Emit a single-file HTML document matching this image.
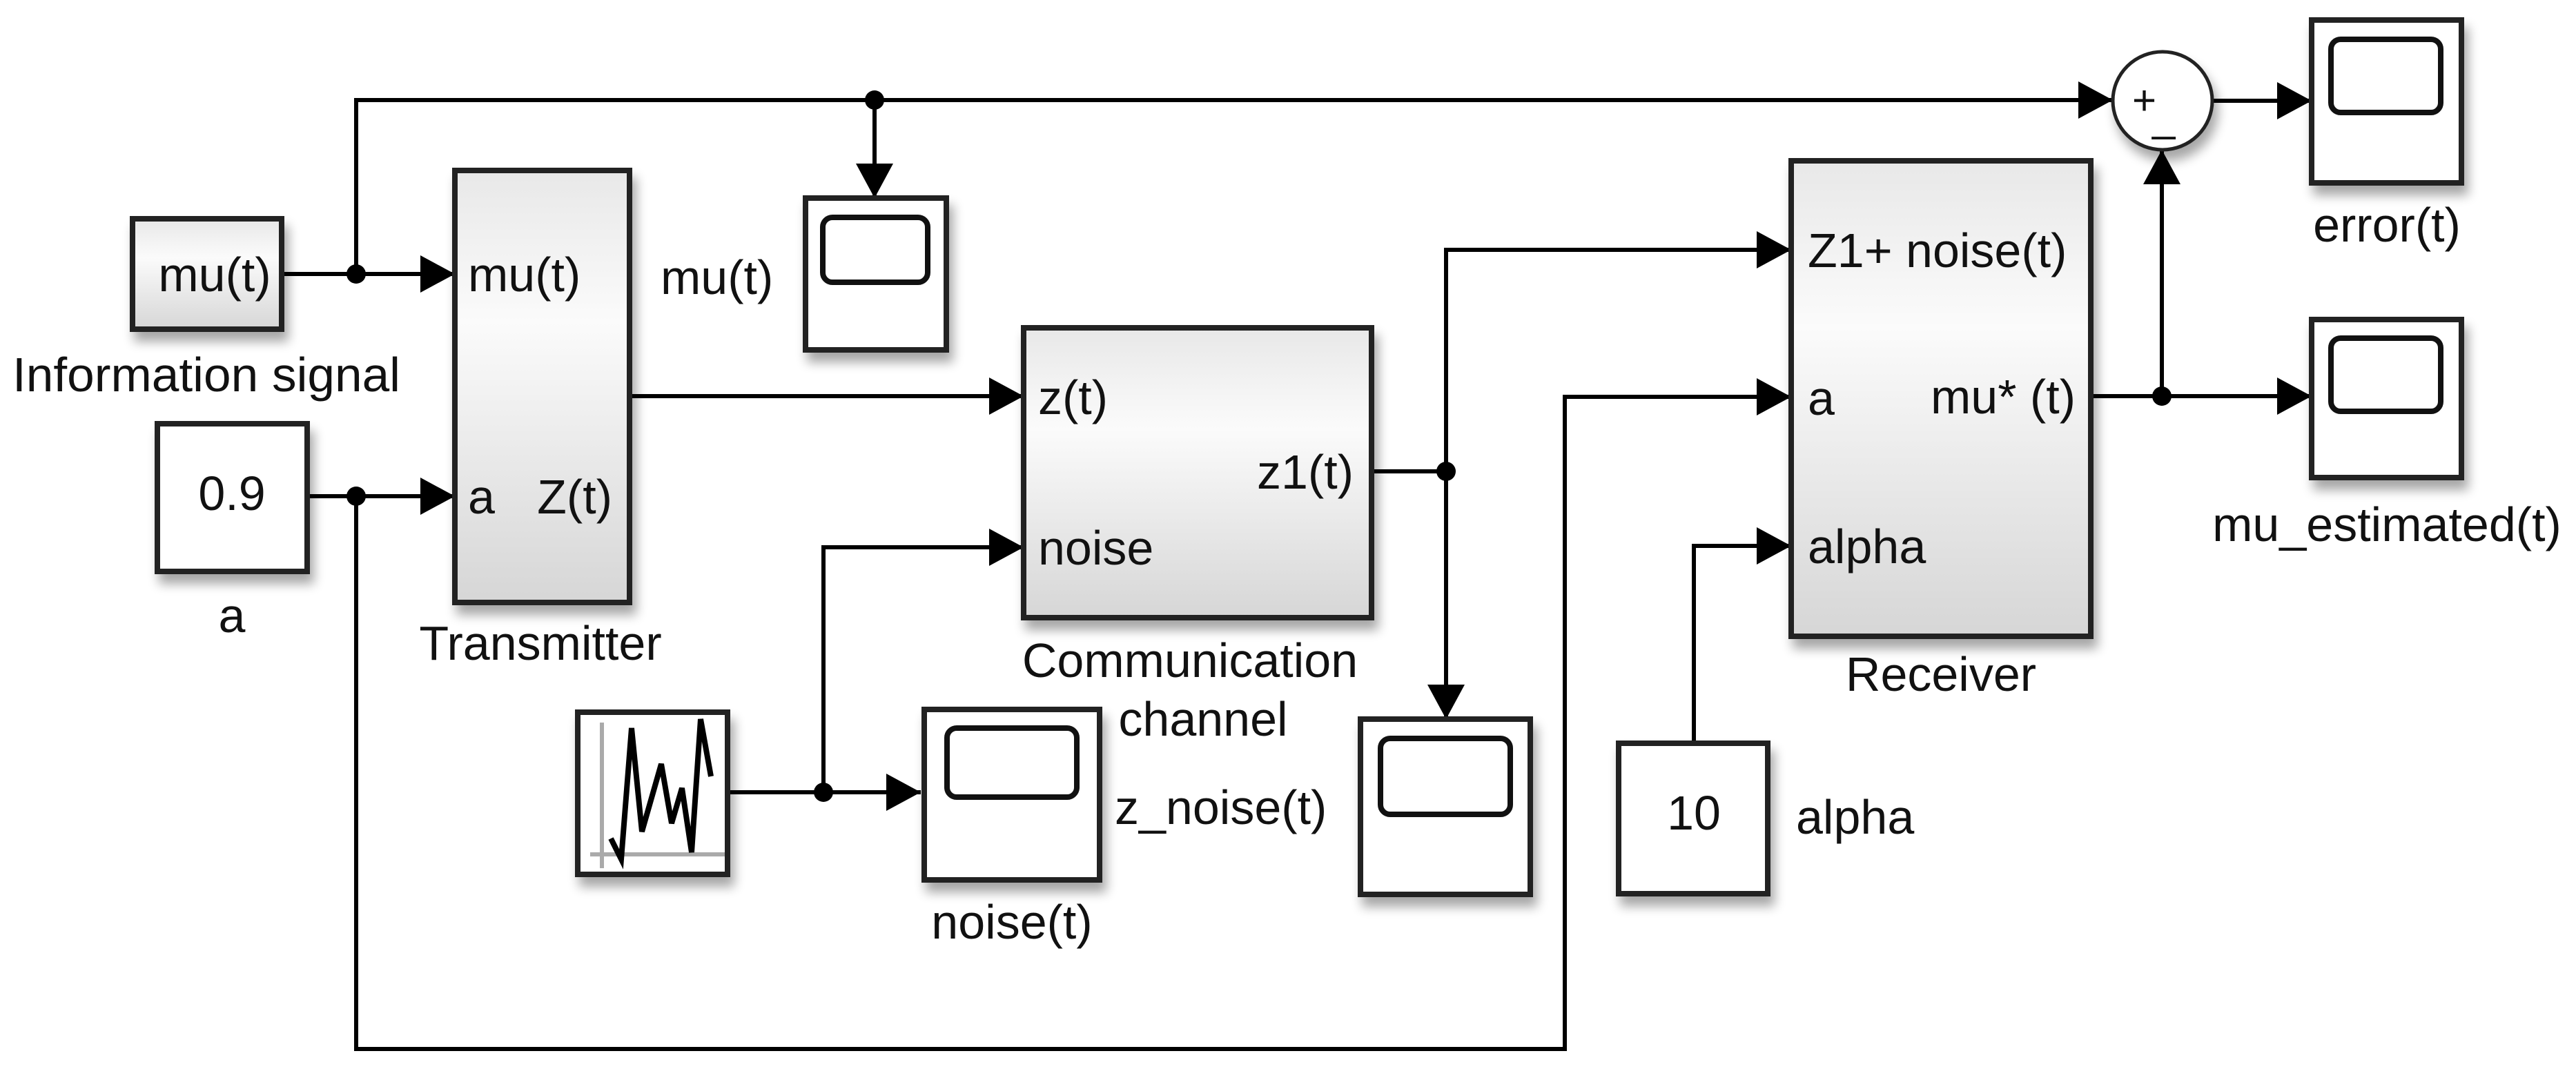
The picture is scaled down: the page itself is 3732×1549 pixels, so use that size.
<!DOCTYPE html>
<html><head><meta charset="utf-8"><style>
html,body{margin:0;padding:0;background:#fff;}
svg{display:block;}
text{font-family:"Liberation Sans",Arial,sans-serif;fill:#111;}
</style></head><body>
<svg width="3732" height="1549" viewBox="0 0 3732 1549" xmlns="http://www.w3.org/2000/svg">
<defs>
<linearGradient id="g" x1="0" y1="0" x2="0" y2="1">
<stop offset="0" stop-color="#e8e8e8"/><stop offset="0.35" stop-color="#fbfbfb"/><stop offset="1" stop-color="#d6d6d6"/>
</linearGradient>
<filter id="sh" x="-10%" y="-10%" width="130%" height="130%">
<feGaussianBlur in="SourceAlpha" stdDeviation="8"/><feOffset dx="6" dy="14"/>
<feComponentTransfer><feFuncA type="linear" slope="0.35"/></feComponentTransfer>
<feMerge><feMergeNode/><feMergeNode in="SourceGraphic"/></feMerge>
</filter>
<marker id="ar" markerUnits="userSpaceOnUse" markerWidth="60" markerHeight="60" refX="50" refY="27" orient="auto">
<path d="M0,0 L50,27 L0,54 Z" fill="#000"/>
</marker>
</defs>

<g fill="none" stroke="#000" stroke-width="6">
<polyline points="516,397 516,145 3061,145" marker-end="url(#ar)"/>
<polyline points="1267,145 1267,287" marker-end="url(#ar)"/>
<polyline points="408,397 659,397" marker-end="url(#ar)"/>
<polyline points="445,719 659,719" marker-end="url(#ar)"/>
<polyline points="516,719 516,1520 2267,1520 2267,575 2595,575" marker-end="url(#ar)"/>
<polyline points="912,574 1483,574" marker-end="url(#ar)"/>
<polyline points="1057,1148 1334,1148" marker-end="url(#ar)"/>
<polyline points="1193,1148 1193,793 1483,793" marker-end="url(#ar)"/>
<polyline points="1987,683 2095,683"/>
<polyline points="2095,683 2095,362 2595,362" marker-end="url(#ar)"/>
<polyline points="2095,683 2095,1042" marker-end="url(#ar)"/>
<polyline points="2454,1077 2454,791 2595,791" marker-end="url(#ar)"/>
<polyline points="3029,574 3349,574" marker-end="url(#ar)"/>
<polyline points="3132,574 3132,217" marker-end="url(#ar)"/>
<polyline points="3205,146 3349,146" marker-end="url(#ar)"/>
</g>
<g fill="#000">
<circle cx="516" cy="397" r="14"/><circle cx="516" cy="719" r="14"/><circle cx="1267" cy="145" r="14"/>
<circle cx="1193" cy="1148" r="14"/><circle cx="2095" cy="683" r="14"/><circle cx="3132" cy="574" r="14"/>
</g>

<g stroke="#222" stroke-width="8" filter="url(#sh)">
<rect x="192" y="317" width="216" height="160" fill="url(#g)"/>
<rect x="228" y="614" width="217" height="214" fill="#fff"/>
<rect x="659" y="247" width="253" height="626" fill="url(#g)"/>
<rect x="1483" y="475" width="504" height="420" fill="url(#g)"/>
<rect x="2595" y="233" width="434" height="689" fill="url(#g)"/>
<rect x="837" y="1032" width="217" height="235" fill="#fff"/>
<rect x="2345" y="1077" width="216" height="218" fill="#fff"/>
<rect x="1167" y="287" width="204" height="220" fill="#fff"/>
<rect x="1339" y="1028" width="254" height="247" fill="#fff"/>
<rect x="1971" y="1042" width="246" height="254" fill="#fff"/>
<rect x="3349" y="29" width="217" height="236" fill="#fff"/>
<rect x="3349" y="463" width="217" height="229" fill="#fff"/>
<ellipse cx="3133" cy="146" rx="72" ry="71" fill="#fff" stroke-width="5"/>
</g>
<g fill="#fff" stroke="#111" stroke-width="8">
<rect x="1192" y="315" width="152" height="94" rx="14"/>
<rect x="1372" y="1055" width="188" height="100" rx="14"/>
<rect x="2000" y="1070" width="188" height="110" rx="14"/>
<rect x="3377" y="57" width="159" height="106" rx="14"/>
<rect x="3377" y="490" width="159" height="106" rx="14"/>
</g>
<g fill="none">
<polyline points="872,1047 872,1258" stroke="#aaa" stroke-width="6"/>
<polyline points="855,1238 1050,1238" stroke="#aaa" stroke-width="6"/>
<polyline points="885,1215 900,1245 915,1055 930,1205 958,1107 973,1193 988,1142 1002,1235 1015,1042 1030,1125" stroke="#000" stroke-width="8"/>
</g>

<g font-size="70">
<text x="311" y="422" text-anchor="middle">mu(t)</text>
<text x="18" y="567" textLength="562" lengthAdjust="spacingAndGlyphs">Information signal</text>
<text x="336" y="739" text-anchor="middle">0.9</text>
<text x="336" y="916" text-anchor="middle">a</text>
<text x="678" y="422">mu(t)</text>
<text x="678" y="744">a</text>
<text x="887" y="744" text-anchor="end">Z(t)</text>
<text x="783" y="956" text-anchor="middle">Transmitter</text>
<text x="957" y="426">mu(t)</text>
<text x="1504" y="600">z(t)</text>
<text x="1961" y="708" text-anchor="end">z1(t)</text>
<text x="1504" y="818">noise</text>
<text x="1724" y="981" text-anchor="middle">Communication</text>
<text x="1743" y="1066" text-anchor="middle">channel</text>
<text x="1615" y="1194">z_noise(t)</text>
<text x="1466" y="1360" text-anchor="middle">noise(t)</text>
<text x="2454" y="1202" text-anchor="middle">10</text>
<text x="2602" y="1208">alpha</text>
<text x="2619" y="387">Z1+ noise(t)</text>
<text x="2619" y="601">a</text>
<text x="3007" y="599" text-anchor="end">mu* (t)</text>
<text x="2619" y="816">alpha</text>
<text x="2812" y="1001" text-anchor="middle">Receiver</text>
<text x="3458" y="350" text-anchor="middle">error(t)</text>
<text x="3458" y="784" text-anchor="middle">mu_estimated(t)</text>
<text x="3089" y="166" font-size="60">+</text>
<text x="3118" y="190" font-size="60">_</text>
</g>
</svg>
</body></html>
